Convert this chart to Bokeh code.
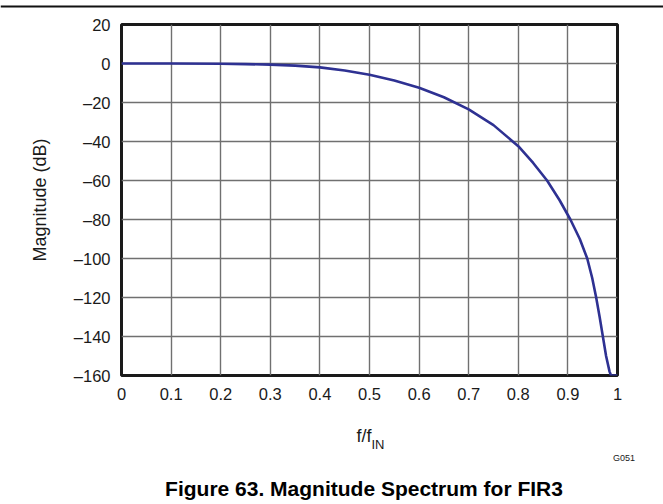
from bokeh.plotting import figure
from bokeh.models import Range1d, FixedTicker, Label, Span
from bokeh.layouts import column
from bokeh.embed import file_html
from bokeh.resources import INLINE

# data
freq = [0, 0.1, 0.2, 0.25, 0.3, 0.35, 0.4, 0.45, 0.5, 0.55, 0.6, 0.65, 0.7, 0.75,
        0.8, 0.83, 0.858, 0.883, 0.905, 0.924, 0.939, 0.949, 0.957, 0.964, 0.9705,
        0.977, 0.984, 0.987, 1.0]
mag_db = [0, 0, -0.1, -0.3, -0.6, -1.1, -2.0, -3.6, -5.8, -8.7, -12.4, -17.3, -23.5,
          -31.6, -42.4, -51, -60, -70, -80, -90, -100, -110, -120, -130, -140,
          -150, -158, -160, -160]

x_ticks = [0, 0.1, 0.2, 0.3, 0.4, 0.5, 0.6, 0.7, 0.8, 0.9, 1.0]
x_tick_labels = ["0", "0.1", "0.2", "0.3", "0.4", "0.5", "0.6", "0.7", "0.8", "0.9", "1"]
y_ticks = [20, 0, -20, -40, -60, -80, -100, -120, -140, -160]
y_tick_labels = ["20", "0", "\u201320", "\u201340", "\u201360", "\u201380", "\u2013100",
                 "\u2013120", "\u2013140", "\u2013160"]

FONT = "Liberation Sans"
TXT = "#1a1a1a"
W = 663
TOP_H = 12
MAIN_H = 400
BOT_H = 504 - TOP_H - MAIN_H


def bare(fig):
    fig.outline_line_color = None
    fig.grid.visible = False
    fig.background_fill_color = "white"
    fig.border_fill_color = "white"
    return fig


# --- top rule ---
top = bare(figure(width=W, height=TOP_H, output_backend="svg", toolbar_location=None,
                  x_range=Range1d(0, W), y_range=Range1d(TOP_H, 0),
                  x_axis_location=None, y_axis_location=None,
                  min_border=0, frame_align=False))
top.add_layout(Span(location=6, dimension="width", line_color="#111111", line_width=2))

# --- main chart ---
p = figure(width=W, height=MAIN_H, output_backend="svg", toolbar_location=None,
           x_range=Range1d(0, 1), y_range=Range1d(-160, 20),
           min_border_left=121, min_border_right=46, min_border_top=12,
           min_border_bottom=37, frame_align=False)

p.line(freq, mag_db, line_color="#2e3192", line_width=2.6, line_join="round")

p.xaxis.ticker = FixedTicker(ticks=x_ticks)
p.yaxis.ticker = FixedTicker(ticks=y_ticks)
p.xaxis.major_label_overrides = {t: l for t, l in zip(x_ticks, x_tick_labels)}
p.yaxis.major_label_overrides = {t: l for t, l in zip(y_ticks, y_tick_labels)}

for ax in (p.xaxis, p.yaxis):
    ax.axis_line_color = None
    ax.major_tick_line_color = None
    ax.minor_tick_line_color = None
    ax.major_tick_out = 0
    ax.major_tick_in = 0
    ax.minor_tick_out = 0
    ax.major_label_text_font = FONT
    ax.major_label_text_font_size = "16.5px"
    ax.major_label_text_color = TXT
    ax.axis_label_text_font = FONT
    ax.axis_label_text_font_size = "18px"
    ax.axis_label_text_font_style = "normal"
    ax.axis_label_text_color = TXT

p.xaxis.major_label_standoff = 12
p.yaxis.major_label_standoff = 11
p.yaxis.axis_label = "Magnitude (dB)"
p.yaxis.axis_label_standoff = 21

p.grid.grid_line_color = "#707070"
p.grid.grid_line_width = 1.4
p.outline_line_color = "#1a1a1a"
p.outline_line_width = 3

# --- bottom texts (pixel-coordinate canvas) ---
y0 = TOP_H + MAIN_H
bot = bare(figure(width=W, height=BOT_H, output_backend="svg", toolbar_location=None,
                  x_range=Range1d(0, W), y_range=Range1d(504, y0),
                  x_axis_location=None, y_axis_location=None,
                  min_border=0, frame_align=False))

bot.add_layout(Label(x=371, y=435, text="f/f", text_font=FONT, text_font_size="18px",
                     text_color=TXT, text_align="right", text_baseline="alphabetic"))
bot.add_layout(Label(x=371, y=444, text="IN", text_font=FONT, text_font_size="13px",
                     text_color=TXT, text_align="left", text_baseline="alphabetic"))
bot.add_layout(Label(x=623.5, y=457, text="G051", text_font=FONT, text_font_size="9px",
                     text_color=TXT, text_align="center", text_baseline="alphabetic"))
bot.add_layout(Label(x=363.5, y=488, text="Figure 63. Magnitude Spectrum for FIR3",
                     text_font=FONT, text_font_size="21px", text_font_style="bold",
                     text_color="#000000", text_align="center", text_baseline="alphabetic"))

layout = column(top, p, bot, spacing=0)

open("out.html", "w").write(file_html(layout, INLINE))
